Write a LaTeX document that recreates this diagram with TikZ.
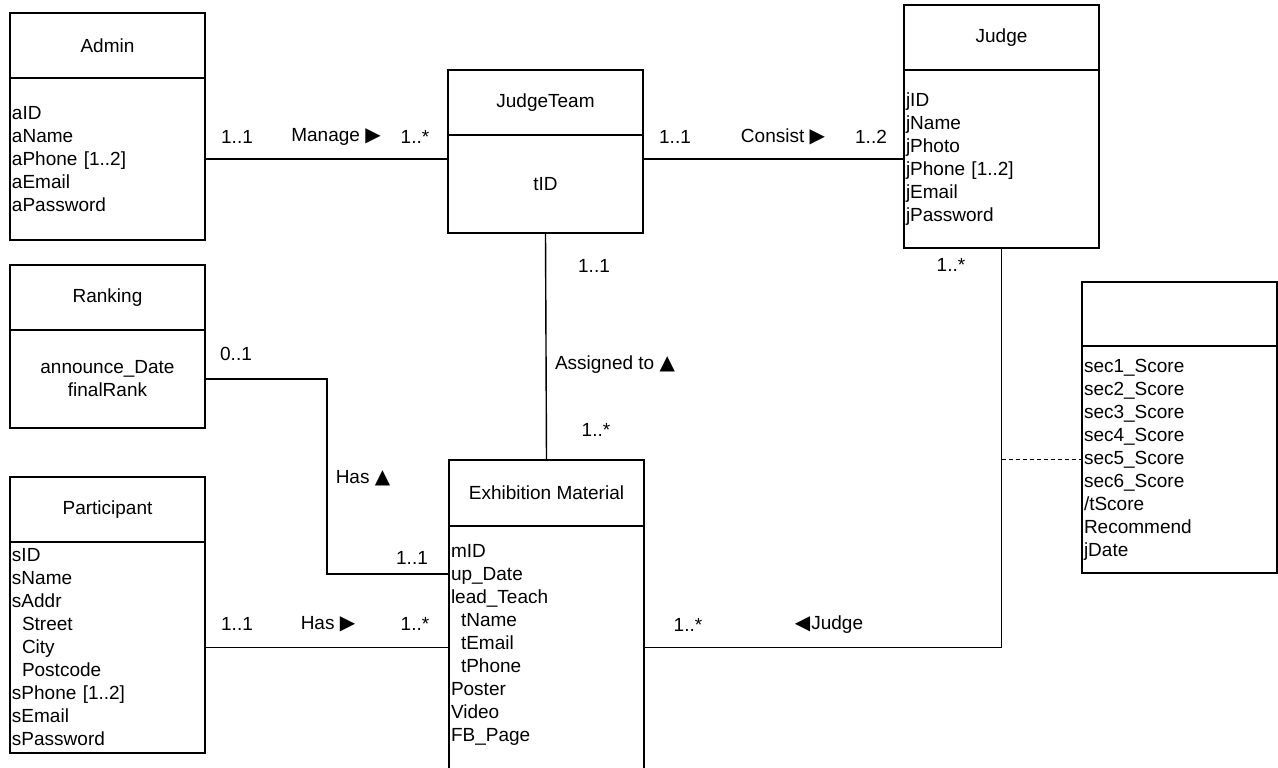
\documentclass[tikz,border=0pt]{standalone}
\usepackage{fontspec}
\setmainfont{Liberation Sans}
\newfontfamily\symfont{DejaVu Sans}
\usetikzlibrary{calc}

\newcommand{\tri}[1]{{\symfont\fontsize{20}{20}\selectfont #1}}
% #1 body style, #2 name, #3 top left corner, #4 title height, #5 body height, #6 title, #7 attributes
\newcommand{\entity}[7][align=left]{%
 \node[ttl, minimum height=#4] (#2) at (#3) {#6};%
 \node[attr, minimum height=#5, #1] (#2-a) at (#2.south west) {#7};%
}

\begin{document}
\begin{tikzpicture}[x=1pt, y=-1pt, line width=1.4pt,
  every node/.style={font=\fontsize{19}{23}\selectfont},
  ttl/.style={draw, anchor=north west, minimum width=195pt, align=center, inner sep=0pt, outer sep=0pt},
  attr/.style={draw, anchor=north west, minimum width=195pt, text width=191pt, inner xsep=2pt, inner ysep=0pt, outer sep=0pt},
  lbl/.style={inner sep=0pt}]
   \useasboundingbox (0,0) rectangle (1278,768);
   \entity{admin}{10,13}{65pt}{162pt}{Admin}{aID\\aName\\aPhone [1..2]\\aEmail\\aPassword}
   \entity[align=center]{team}{448,70}{65pt}{98pt}{JudgeTeam}{tID}
   \entity{judge}{904,5}{65pt}{178pt}{Judge}{jID\\jName\\jPhoto\\jPhone [1..2]\\jEmail\\jPassword}
   \entity[align=center]{rank}{10,265}{65pt}{98pt}{Ranking}{announce\_Date\\finalRank}
   \entity{part}{10,477}{65pt}{211pt}{Participant}{sID\\sName\\sAddr\\\hspace*{10pt}Street\\\hspace*{10pt}City\\\hspace*{10pt}Postcode\\sPhone [1..2]\\sEmail\\sPassword}
   \entity[align=left, text depth=200pt]{exhib}{449,460}{66pt}{250pt}{Exhibition Material}{mID\\up\_Date\\lead\_Teach\\\hspace*{10pt}tName\\\hspace*{10pt}tEmail\\\hspace*{10pt}tPhone\\Poster\\Video\\FB\_Page}
   \entity{score}{1082,282}{64pt}{227pt}{}{sec1\_Score\\sec2\_Score\\sec3\_Score\\sec4\_Score\\sec5\_Score\\sec6\_Score\\/tScore\\Recommend\\jDate}

   \coordinate (exhibR) at (exhib-a.west |- 0,574);
   \draw (admin-a.east) -- (admin-a.east -| team-a.west);
   \draw (judge-a.west -| team-a.east) -- (judge-a.west);
   \draw (team-a.south) -- (exhib.north);
   \draw (rank-a.east) -| ($(rank-a.east)!0.5!(exhibR)$) |- (exhibR);
   \draw (part-a.east) -- (part-a.east -| exhib-a.west);
   \draw (judge-a.south) |- (part-a.east -| exhib-a.east);
   \draw[line width=1pt, dash pattern=on 4pt off 3pt] (score-a.west -| judge-a.south) -- (score-a.west);

   \node[lbl] (mng1) at (237,137) {1..1};
   \node[lbl] (mng) at (336,137) {Manage \tri{▶}};
   \node[lbl] (mng2) at (415,137) {1..*};
   \node[lbl] (cns1) at (675,137) {1..1};
   \node[lbl] (cns) at (783,137) {Consist \tri{▶}};
   \node[lbl] (cns2) at (871,137) {1..2};
   \node[lbl] (asg1) at (594,266) {1..1};
   \node[lbl] (asg) at (615,365) {Assigned to \tri{▲}};
   \node[lbl] (asg2) at (596,430) {1..*};
   \node[lbl] (rhas1) at (236,354) {0..1};
   \node[lbl] (rhas) at (363,478) {Has \tri{▲}};
   \node[lbl] (rhas2) at (412,558) {1..1};
   \node[lbl] (phas1) at (237,624) {1..1};
   \node[lbl] (phas) at (328,624) {Has \tri{▶}};
   \node[lbl] (phas2) at (415,624) {1..*};
   \node[lbl] (jdg1) at (688,625) {1..*};
   \node[lbl] (jdg) at (829,625) {\tri{◀}\kern1pt Judge};
   \node[lbl] (jdg2) at (951,265) {1..*};
\end{tikzpicture}
\end{document}
